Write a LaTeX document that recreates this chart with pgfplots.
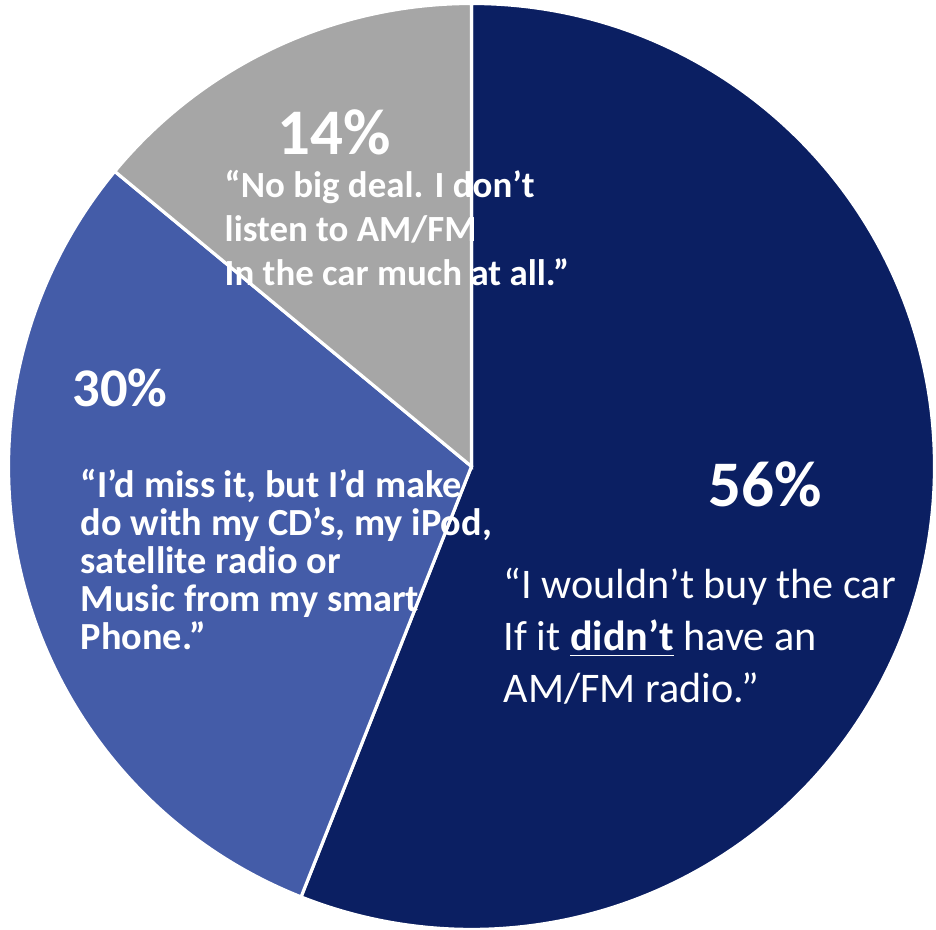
\documentclass[border=0pt]{standalone}
\usepackage{fontspec}
\setmainfont{Carlito}
\usepackage{pgfplots}
\pgfplotsset{compat=1.18}
\definecolor{navy}{HTML}{0B1F62}
\definecolor{midblue}{HTML}{445CA8}
\definecolor{pgray}{HTML}{A6A6A6}
% slice values (percent), clockwise from 12 o'clock
\def\vA{56}
\def\vB{30}
\def\vC{14}
\def\R{463}
\begin{document}
\begin{tikzpicture}
\begin{axis}[width=9.36cm,height=9.30cm,scale only axis,hide axis,
  xmin=-471.5,xmax=464.5,ymin=-463.5,ymax=466.5,clip=false]
\addplot[draw=none] coordinates {(0,0)};
\fill[navy,draw=white,line width=0.9pt] (axis cs:0,0) -- (axis cs:0,\R)
  arc[start angle=90,end angle={90-3.6*\vA},radius=\R] -- cycle;
\fill[midblue,draw=white,line width=0.9pt] (axis cs:0,0) -- (axis cs:{\R*cos(90-3.6*\vA)},{\R*sin(90-3.6*\vA)})
  arc[start angle={90-3.6*\vA},end angle={90-3.6*(\vA+\vB)},radius=\R] -- cycle;
\fill[pgray,draw=white,line width=0.9pt] (axis cs:0,0) -- (axis cs:{\R*cos(90-3.6*(\vA+\vB))},{\R*sin(90-3.6*(\vA+\vB))})
  arc[start angle={90-3.6*(\vA+\vB)},end angle={90-3.6*(\vA+\vB+\vC)},radius=\R] -- cycle;
% labels
\node[anchor=base west,inner sep=0,text=white,font=\fontsize{18.5}{22}\selectfont\bfseries] at (axis cs:-194.5,311.5) {14\%};
\node[anchor=north west,inner sep=0,text=white,align=left,font=\fontsize{10.5}{12.5}\selectfont\bfseries] at (axis cs:-247.5,296.5)
  {“No big deal. I don’t\\listen to AM/FM\\In the car much at all.”};
\node[anchor=base west,inner sep=0,text=white,font=\fontsize{15.5}{19}\selectfont\bfseries] at (axis cs:-399.5,59.5) {30\%};
\node[anchor=north west,inner sep=0,text=white,align=left,font=\fontsize{10.9}{10.8}\selectfont\bfseries] at (axis cs:-391.5,-2.5)
  {“I’d miss it, but I’d make\\do with my CD’s, my iPod,\\satellite radio or\\Music from my smart\\Phone.”};
\node[anchor=base west,inner sep=0,text=white,font=\fontsize{18.5}{22}\selectfont\bfseries] at (axis cs:236.5,-40.5) {56\%};
\node[anchor=north west,inner sep=0,text=white,align=left,font=\fontsize{12}{14.8}\selectfont] at (axis cs:31.5,-100.5)
  {“I wouldn’t buy the car\\If it \underline{\textbf{didn’t}} have an\\AM/FM radio.”};
\end{axis}
\pgfresetboundingbox
\path[use as bounding box] (current axis.south west) rectangle (current axis.north east);
\end{tikzpicture}
\end{document}
